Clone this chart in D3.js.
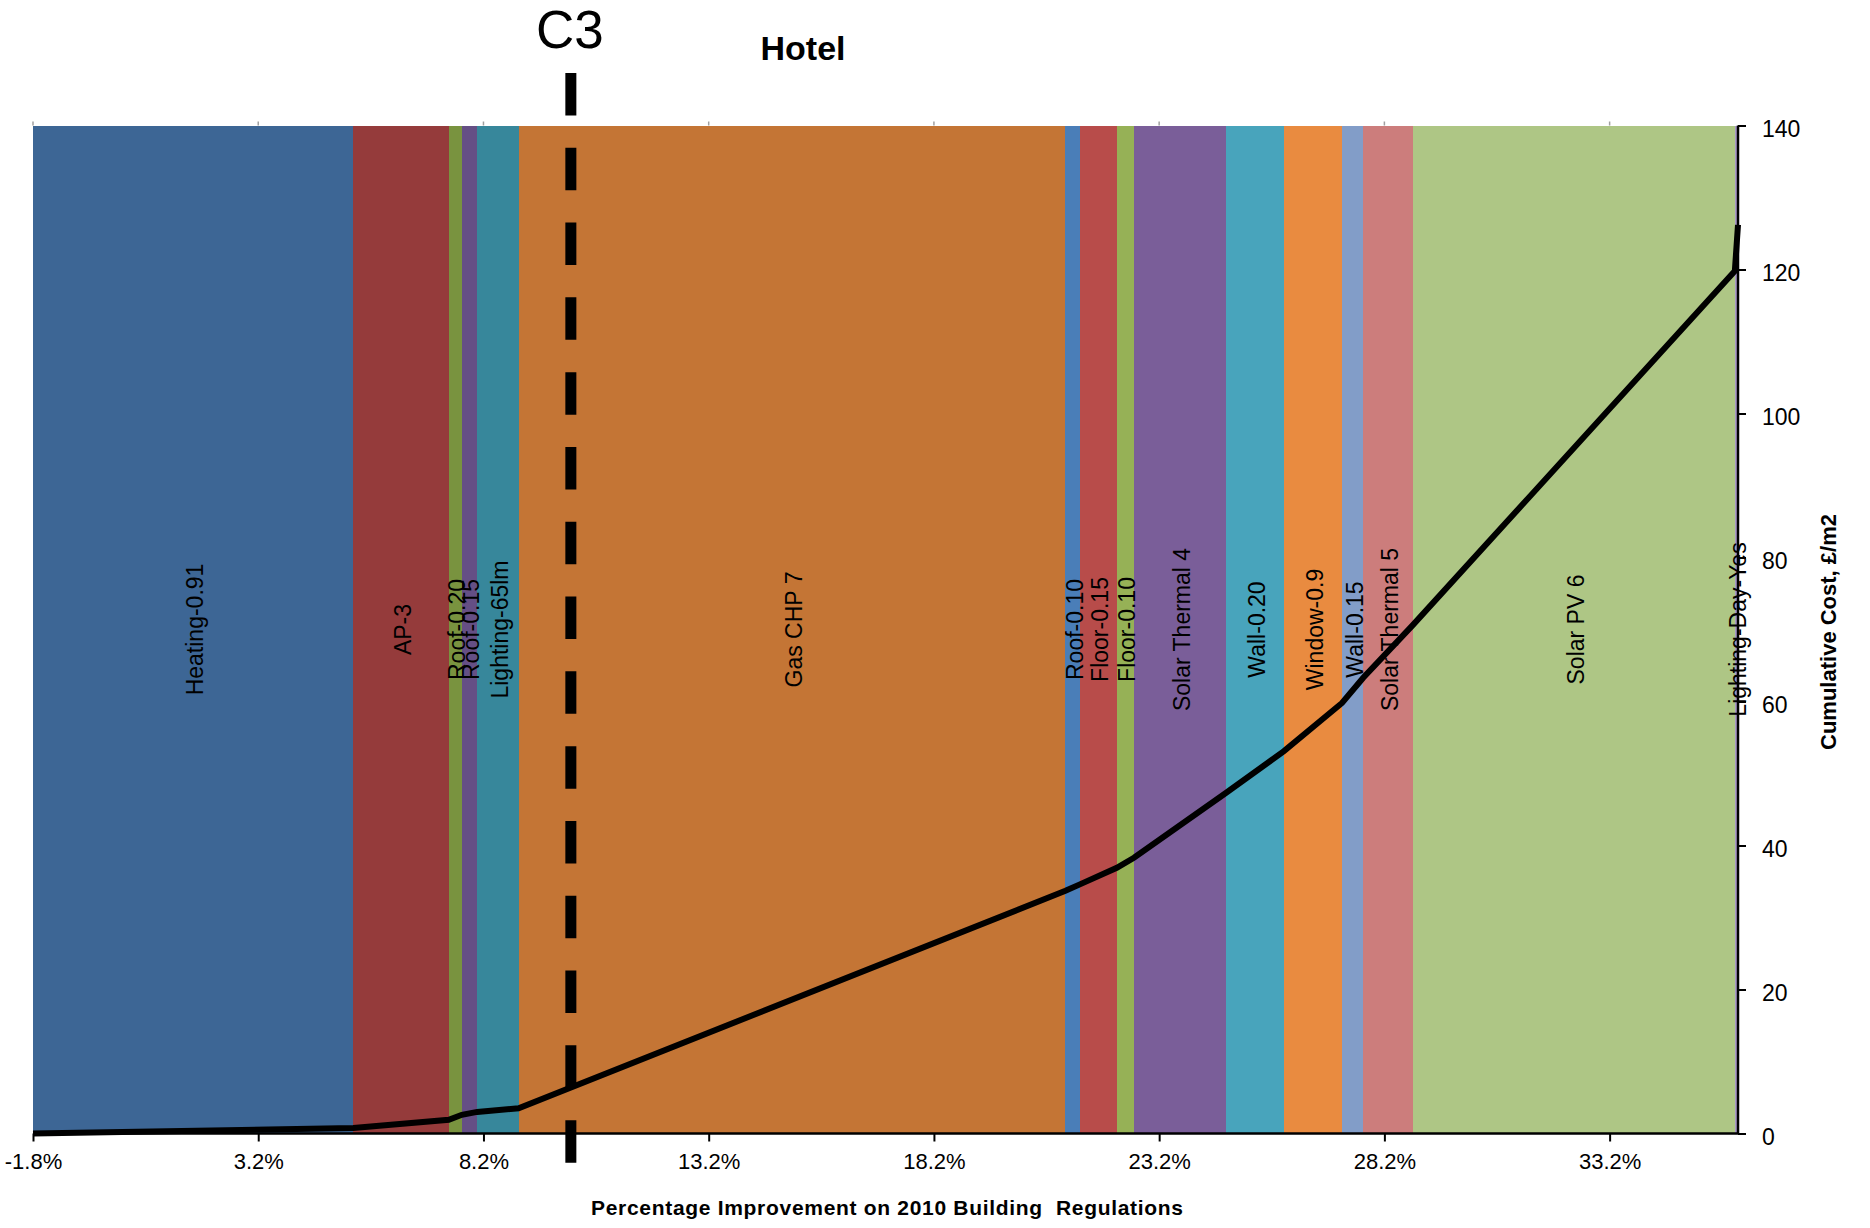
<!DOCTYPE html>
<html>
<head>
<meta charset="utf-8">
<script src="https://cdn.jsdelivr.net/npm/d3@7"></script>
<style>
  html, body { margin: 0; padding: 0; background: #ffffff; }
  svg { display: block; }
  text { font-family: "Liberation Sans", Arial, sans-serif; fill: #000; }
</style>
</head>
<body>
<svg id="chart" width="1870" height="1228"></svg>
<script>
// ---------- data ----------
const chartTitle = "Hotel";
const markerLabel = "C3";
const markerImprovement = 10.14;
const markerSpan = [147.3, -4.1];

const categories = ["Heating-0.91", "AP-3", "Roof-0.20", "Roof-0.15", "Lighting-65lm", "Gas CHP 7",
  "Roof-0.10", "Floor-0.15", "Floor-0.10", "Solar Thermal 4", "Wall-0.20", "Window-0.9",
  "Wall-0.15", "Solar Thermal 5", "Solar PV 6", "Lighting-Day-Yes"];
const startImprovement = -1.8;
const startCost = 0;
const improvementEnd = [5.31, 7.43, 7.72, 8.06, 8.98, 21.12, 21.44, 22.26, 22.64, 24.68,
  25.97, 27.26, 27.73, 28.83, 35.98, 36.05];
const cumulativeCost = [0.75, 1.9, 2.6, 3.0, 3.5, 33.7, 34.6, 36.9, 38.3, 47.3,
  53.1, 59.8, 63.3, 70.6, 119.8, 126.2];
const barColors = ["#3d6695", "#953b3b", "#79933f", "#654f85", "#37879b", "#c47535",
  "#4a7eb8", "#b84c4a", "#96b156", "#7a5e99", "#48a4bc", "#e98b40",
  "#829dc8", "#cc7d7c", "#aec685", "#a899c6"];

const xTickValues = [-1.8, 3.2, 8.2, 13.2, 18.2, 23.2, 28.2, 33.2];
const xTickLabels = ["-1.8%", "3.2%", "8.2%", "13.2%", "18.2%", "23.2%", "28.2%", "33.2%"];
const yTickValues = [0, 20, 40, 60, 80, 100, 120, 140];
const xAxisTitle = "Percentage Improvement on 2010 Building  Regulations";
const yAxisTitle = "Cumulative Cost, \u00A3/m2";

// ---------- layout ----------
const plot = { left: 33, right: 1738, top: 125.5, bottom: 1133.5 };
const svg = d3.select("#chart");

const x = d3.scaleLinear().domain([-1.8, 36.05]).range([plot.left, plot.right]);
const y = d3.scaleLinear().domain([0, 140]).range([plot.bottom, plot.top]);

const bars = categories.map((name, i) => ({
  name,
  x0: i === 0 ? startImprovement : improvementEnd[i - 1],
  x1: improvementEnd[i],
  color: barColors[i]
}));

// bars
svg.append("g").selectAll("rect").data(bars).join("rect")
  .attr("x", d => x(d.x0))
  .attr("width", d => Math.max(0, x(d.x1) - x(d.x0)))
  .attr("y", y(140))
  .attr("height", y(0) - y(140))
  .attr("fill", d => d.color)
  .attr("shape-rendering", "crispEdges");

// bar labels (rotated)
const labelY = y(70);
svg.append("g").selectAll("text").data(bars).join("text")
  .attr("transform", d => `translate(${(x(d.x0) + x(d.x1)) / 2},${labelY}) rotate(-90)`)
  .attr("text-anchor", "middle")
  .attr("dy", "0.43em")
  .style("font-size", "23px")
  .text(d => d.name);

// top small ticks
svg.append("g").selectAll("line").data(xTickValues).join("line")
  .attr("x1", d => x(d)).attr("x2", d => x(d))
  .attr("y1", plot.top - 4).attr("y2", plot.top)
  .attr("stroke", "#a0a0a0").attr("stroke-width", 1.5);

// bottom axis
const xAxis = d3.axisBottom(x)
  .tickValues(xTickValues)
  .tickFormat((d, i) => xTickLabels[i])
  .tickSize(8)
  .tickPadding(12);
const gx = svg.append("g").attr("transform", `translate(0,${plot.bottom})`).call(xAxis);
gx.select(".domain").remove();
gx.selectAll(".tick line").attr("stroke", "#000").attr("stroke-width", 2);
gx.selectAll(".tick text").style("font-size", "22px").style("font-family", "'Liberation Sans', Arial, sans-serif");
svg.append("line")
  .attr("x1", x(-1.8)).attr("x2", x(36.05))
  .attr("y1", y(0)).attr("y2", y(0))
  .attr("stroke", "#000").attr("stroke-width", 2.5);

// right axis
const yAxis = d3.axisRight(y)
  .tickValues(yTickValues)
  .tickSize(8)
  .tickPadding(16);
const gy = svg.append("g").attr("transform", `translate(${plot.right},0)`).call(yAxis);
gy.select(".domain").remove();
gy.selectAll(".tick line").attr("stroke", "#000").attr("stroke-width", 2);
gy.selectAll(".tick text").style("font-size", "23px").attr("dy", "0.46em")
  .style("font-family", "'Liberation Sans', Arial, sans-serif");
svg.append("line")
  .attr("x1", x(36.05)).attr("x2", x(36.05))
  .attr("y1", y(0)).attr("y2", y(140))
  .attr("stroke", "#000").attr("stroke-width", 2.5);

// cumulative cost line
const linePts = [[startImprovement, startCost]].concat(improvementEnd.map((v, i) => [v, cumulativeCost[i]]));
svg.append("path")
  .datum(linePts)
  .attr("d", d3.line().x(d => x(d[0])).y(d => y(d[1])))
  .attr("fill", "none")
  .attr("stroke", "#000")
  .attr("stroke-width", 6)
  .attr("stroke-linejoin", "miter");

// C3 dashed marker line
svg.append("path")
  .datum(markerSpan.map(v => [markerImprovement, v]))
  .attr("d", d3.line().x(d => x(d[0])).y(d => y(d[1])))
  .attr("stroke", "#000")
  .attr("stroke-width", 11)
  .attr("stroke-dasharray", "42.5 32.3");

// titles
svg.append("text")
  .attr("x", x(markerImprovement) - 1).attr("y", 48)
  .attr("text-anchor", "middle")
  .style("font-size", "53px")
  .text(markerLabel);

svg.append("text")
  .attr("x", 803).attr("y", 60)
  .attr("text-anchor", "middle")
  .style("font-size", "34px").style("font-weight", "bold")
  .text(chartTitle);

svg.append("text")
  .attr("x", 887).attr("y", 1215)
  .attr("text-anchor", "middle")
  .attr("textLength", 592).attr("lengthAdjust", "spacing")
  .style("font-size", "21px").style("font-weight", "bold")
  .style("white-space", "pre")
  .text(xAxisTitle);

svg.append("text")
  .attr("transform", `translate(1828,632) rotate(-90)`)
  .attr("text-anchor", "middle")
  .attr("dy", "0.35em")
  .style("font-size", "22px").style("font-weight", "bold")
  .text(yAxisTitle);
</script>
</body>
</html>
